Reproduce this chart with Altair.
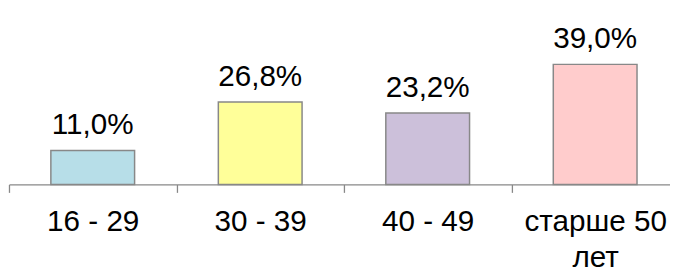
import altair as alt
import pandas as pd

categories = ["16 - 29", "30 - 39", "40 - 49", "старше 50 лет"]
values = [11.0, 26.8, 23.2, 39.0]
labels = ["11,0%", "26,8%", "23,2%", "39,0%"]
colors = ["#B7DEE8", "#FFFF99", "#CCC0DA", "#FFCCCC"]

df = pd.DataFrame({"cat": categories, "val": values, "label": labels})

FONT = "Liberation Sans"
STEP = 169.5

x = alt.X(
    "cat:N",
    sort=categories,
    scale=alt.Scale(range=[0, 678], paddingInner=0.5, paddingOuter=0.25),
    axis=alt.Axis(
        title=None,
        domainColor="#888888",
        domainWidth=1.3,
        tickColor="#888888",
        tickWidth=1.3,
        tickSize=8,
        tickOffset=-STEP / 2,
        labelOffset=STEP / 2,
        labelFont=FONT,
        labelFontSize=30,
        labelColor="#000000",
        labelPadding=39,
        labelBaseline="alphabetic",
        labelLineHeight=36,
        labelAngle=0,
        labelExpr="datum.label == 'старше 50 лет' ? ['старше 50', 'лет'] : datum.label",
    ),
)
y = alt.Y("val:Q", scale=alt.Scale(domain=[0, 56.8]), axis=None)

bars = alt.Chart(df).mark_bar(stroke="#888888", strokeWidth=1.5).encode(
    x=x,
    y=y,
    color=alt.Color("cat:N", sort=categories, scale=alt.Scale(domain=categories, range=colors), legend=None),
)

text = alt.Chart(df).mark_text(
    font=FONT, fontSize=30, baseline="alphabetic", dy=-16.5, color="#000000"
).encode(x=alt.X("cat:N", sort=categories), y=y, text="label:N")

chart = (
    alt.layer(bars, text)
    .properties(width=669, height=177, padding={"left": 1, "top": 0, "right": 0, "bottom": 87}, autosize="none")
    .configure_view(stroke=None)
)

chart.save("out.html", embed_options={"renderer": "svg", "actions": False})
